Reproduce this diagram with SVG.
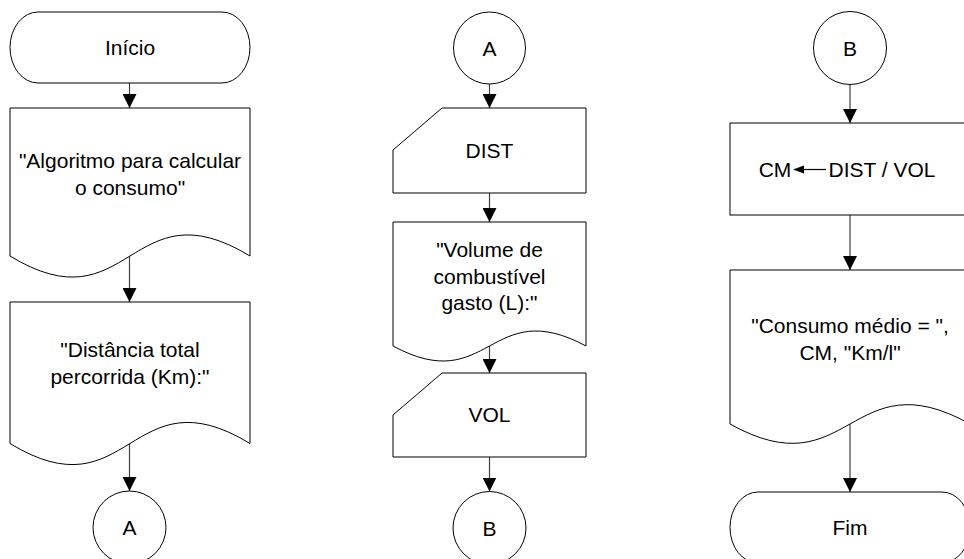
<svg xmlns="http://www.w3.org/2000/svg" width="964" height="559" viewBox="0 0 964 559">
<defs>
<marker id="ah" markerUnits="userSpaceOnUse" markerWidth="14" markerHeight="14" viewBox="0 0 13 13" refX="13" refY="6.5" orient="auto">
<path d="M0,0 L13,6.5 L0,13 Z" fill="#000"/>
</marker>
<style>
.s{fill:#fff;stroke:#000;stroke-width:1}
.t{font-family:"Liberation Sans",Arial,sans-serif;font-size:21px;fill:#000;text-anchor:middle}
.c{fill:none;stroke:#404040;stroke-width:1.2;marker-end:url(#ah)}
</style>
</defs>
<rect width="964" height="559" fill="#fff"/>
<g id="connectors">
<line class="c" x1="129.5" y1="83" x2="129.5" y2="108"/>
<line class="c" x1="129.5" y1="256" x2="129.5" y2="302"/>
<line class="c" x1="129.5" y1="443.5" x2="129.5" y2="491"/>
<line class="c" x1="489.5" y1="84" x2="489.5" y2="108"/>
<line class="c" x1="489.5" y1="193" x2="489.5" y2="222"/>
<line class="c" x1="489.5" y1="346" x2="489.5" y2="373"/>
<line class="c" x1="489.5" y1="457" x2="489.5" y2="491.5"/>
<line class="c" x1="850" y1="85" x2="850" y2="123"/>
<line class="c" x1="850" y1="215" x2="850" y2="270"/>
<line class="c" x1="850" y1="424" x2="850" y2="492"/>
</g>
<g id="inicio">
<rect class="s" x="10" y="12" width="240" height="71" rx="28" ry="35.5"/>
<text class="t" x="130" y="55">Início</text>
</g>
<g id="doc-algoritmo">
<path class="s" d="M10,108 H250 V256 C130,183 130,329 10,256 Z"/>
<text class="t" x="130" y="168">"Algoritmo para calcular</text>
<text class="t" x="130" y="195">o consumo"</text>
</g>
<g id="doc-distancia">
<path class="s" d="M10,302 H250 V443.5 C130,370.5 130,516.5 10,443.5 Z"/>
<text class="t" x="130" y="357">"Distância total</text>
<text class="t" x="130" y="384">percorrida (Km):"</text>
</g>
<g id="con-a-out">
<circle class="s" cx="129.5" cy="527.5" r="36.5"/>
<text class="t" x="129.5" y="535">A</text>
</g>
<g id="con-a-in">
<circle class="s" cx="489.5" cy="48" r="36"/>
<text class="t" x="489.5" y="56">A</text>
</g>
<g id="in-dist">
<path class="s" d="M442,108 H586 V193 H393 V150 Z"/>
<text class="t" x="489.5" y="158">DIST</text>
</g>
<g id="doc-volume">
<path class="s" d="M393,222 H586 V346 C489.5,294 489.5,398 393,346 Z"/>
<text class="t" x="489.5" y="257">"Volume de</text>
<text class="t" x="489.5" y="284">combustível</text>
<text class="t" x="489.5" y="310">gasto (L):"</text>
</g>
<g id="in-vol">
<path class="s" d="M442,373 H586 V457 H393 V415 Z"/>
<text class="t" x="489.5" y="422">VOL</text>
</g>
<g id="con-b-out">
<circle class="s" cx="489.5" cy="528" r="36.5"/>
<text class="t" x="489.5" y="535.5">B</text>
</g>
<g id="con-b-in">
<circle class="s" cx="850" cy="48" r="36.5"/>
<text class="t" x="850" y="55.5">B</text>
</g>
<g id="proc-cm">
<rect class="s" x="730" y="123" width="240" height="92"/>
<text class="t" x="775" y="176.5">CM</text>
<polygon points="793,169.5 804,165.5 804,173.5" fill="#000"/>
<line x1="803" y1="169.5" x2="826" y2="169.5" stroke="#000" stroke-width="1.2"/>
<text class="t" x="882" y="176.5">DIST / VOL</text>
</g>
<g id="doc-consumo">
<path class="s" d="M730,270 H970 V424 C850,357 850,491 730,424 Z"/>
<text class="t" x="850" y="333">"Consumo médio = ",</text>
<text class="t" x="850" y="360">CM, "Km/l"</text>
</g>
<g id="fim">
<rect class="s" x="730" y="492" width="240" height="71" rx="28" ry="35.5"/>
<text class="t" x="850" y="535">Fim</text>
</g>
</svg>
